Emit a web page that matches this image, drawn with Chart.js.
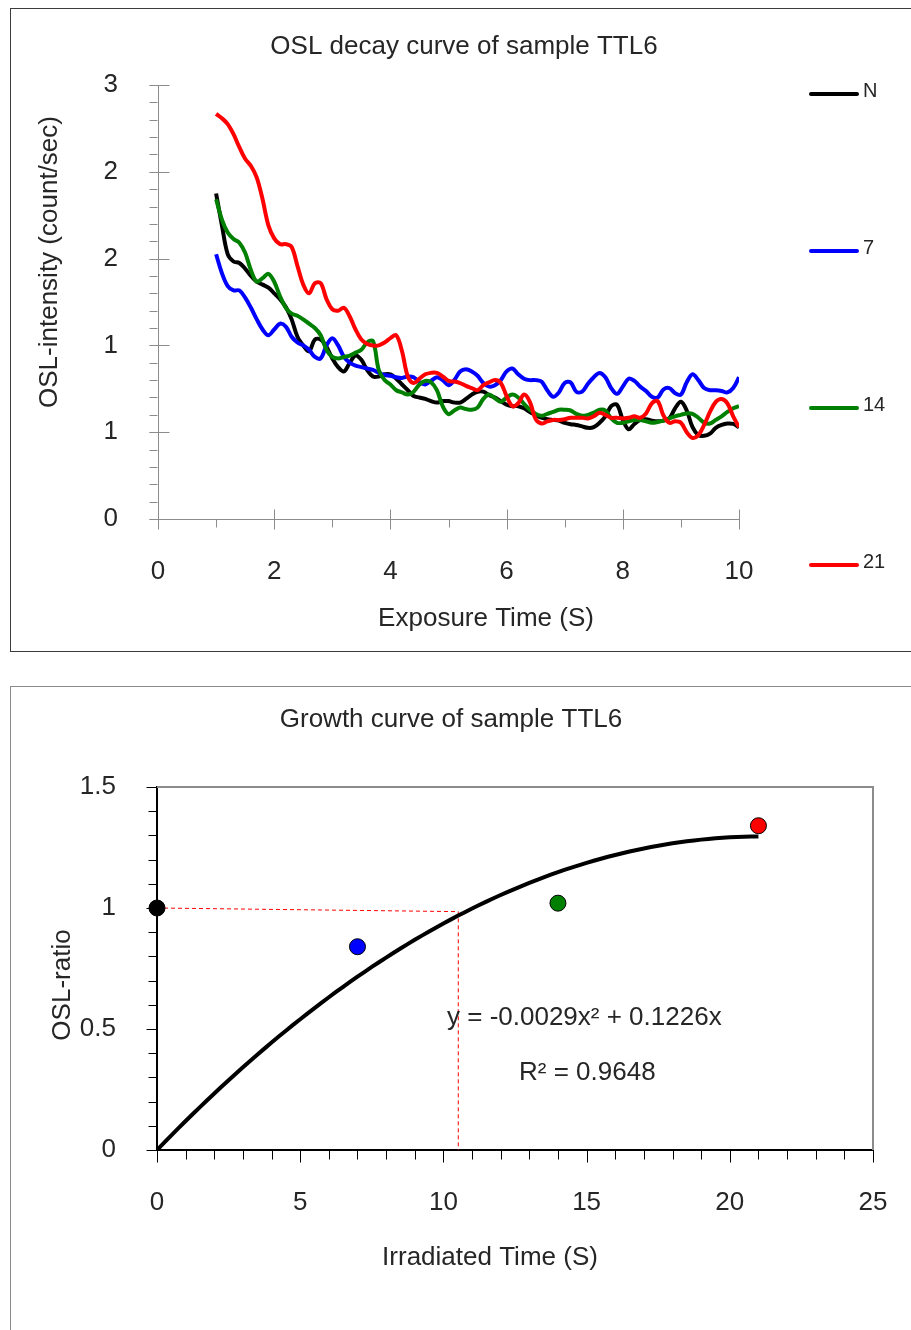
<!DOCTYPE html>
<html>
<head>
<meta charset="utf-8">
<title>TTL6</title>
<script src="https://cdn.jsdelivr.net/npm/chart.js@4.4.0/dist/chart.umd.min.js"></script>
<style>
  html, body { margin: 0; padding: 0; background: #fff; overflow: hidden; }
  body { width: 911px; height: 1330px; position: relative; }
  .frame { position: absolute; box-sizing: border-box; }
  #decayFrame { left: 10px; top: 8px; width: 940px; height: 644px; border: 1px solid #3c3c3c; }
  #growthFrame { left: 10px; top: 686px; width: 940px; height: 700px; border: 1px solid #8a8a8a; }
  canvas { position: absolute; left: 0; }
  #decayChart { top: 0; }
  #growthChart { top: 660px; }
</style>
</head>
<body>
<div class="frame" id="decayFrame"></div>
<div class="frame" id="growthFrame"></div>
<canvas id="decayChart" width="911" height="660"></canvas>
<canvas id="growthChart" width="911" height="670"></canvas>
<script>
// decay curves: exposure time (s) and OSL counts for each irradiation step
var exposureTime = [
    1.0, 1.1, 1.2, 1.3, 1.4, 1.5, 1.6, 1.7, 1.8, 1.9,
    2.0, 2.1, 2.2, 2.3, 2.4, 2.5, 2.6, 2.7, 2.8, 2.9,
    3.0, 3.1, 3.2, 3.3, 3.4, 3.5, 3.6, 3.7, 3.8, 3.9,
    4.0, 4.1, 4.2, 4.3, 4.4, 4.5, 4.6, 4.7, 4.8, 4.9,
    5.0, 5.1, 5.2, 5.3, 5.4, 5.5, 5.6, 5.7, 5.8, 5.9,
    6.0, 6.1, 6.2, 6.3, 6.4, 6.5, 6.6, 6.7, 6.8, 6.9,
    7.0, 7.1, 7.2, 7.3, 7.4, 7.5, 7.6, 7.7, 7.8, 7.9,
    8.0, 8.1, 8.2, 8.3, 8.4, 8.5, 8.6, 8.7, 8.8, 8.9,
    9.0, 9.1, 9.2, 9.3, 9.4, 9.5, 9.6, 9.7, 9.8, 9.9,
    10.0
];
var oslN = [
    2.25, 2.03, 1.83, 1.78, 1.77, 1.73, 1.68, 1.64, 1.62, 1.60,
    1.56, 1.52, 1.465, 1.38, 1.26, 1.20, 1.16, 1.24, 1.24, 1.19,
    1.11, 1.05, 1.02, 1.08, 1.13, 1.10, 1.03, 0.985, 0.985, 1.00,
    1.00, 0.97, 0.93, 0.89, 0.85, 0.84, 0.83, 0.815, 0.805, 0.815,
    0.815, 0.805, 0.805, 0.83, 0.86, 0.88, 0.88, 0.855, 0.84, 0.815,
    0.79, 0.78, 0.78, 0.765, 0.74, 0.72, 0.70, 0.69, 0.685, 0.68,
    0.665, 0.655, 0.65, 0.64, 0.63, 0.635, 0.665, 0.71, 0.78, 0.79,
    0.685, 0.62, 0.657, 0.685, 0.69, 0.68, 0.675, 0.68, 0.695, 0.765,
    0.81, 0.75, 0.635, 0.58, 0.575, 0.59, 0.63, 0.65, 0.66, 0.657,
    0.635
];
var osl7 = [
    1.83, 1.70, 1.61, 1.58, 1.58, 1.53, 1.46, 1.38, 1.31, 1.27,
    1.31, 1.35, 1.33, 1.26, 1.22, 1.20, 1.17, 1.12, 1.11, 1.20,
    1.25, 1.20, 1.12, 1.08, 1.06, 1.05, 1.04, 1.03, 1.01, 0.995,
    0.99, 0.98, 0.975, 0.985, 0.98, 0.945, 0.93, 0.955, 0.98, 0.96,
    0.925, 0.96, 1.02, 1.035, 1.02, 0.99, 0.94, 0.915, 0.925, 0.96,
    1.02, 1.04, 1.00, 0.97, 0.96, 0.96, 0.95, 0.89, 0.845, 0.875,
    0.94, 0.945, 0.88, 0.88, 0.935, 0.98, 1.01, 0.98, 0.905, 0.865,
    0.915, 0.97, 0.955, 0.915, 0.885, 0.845, 0.84, 0.895, 0.905, 0.87,
    0.86, 0.945, 1.00, 0.96, 0.905, 0.89, 0.89, 0.885, 0.875, 0.905,
    0.98
];
var osl14 = [
    2.21, 2.07, 1.98, 1.935, 1.91, 1.84, 1.72, 1.64, 1.665, 1.695,
    1.64, 1.54, 1.46, 1.42, 1.405, 1.38, 1.35, 1.32, 1.27, 1.17,
    1.12, 1.11, 1.12, 1.13, 1.15, 1.17, 1.22, 1.23, 1.03, 0.96,
    0.93, 0.89, 0.875, 0.86, 0.88, 0.93, 0.955, 0.945, 0.89, 0.78,
    0.725, 0.75, 0.77, 0.76, 0.755, 0.77, 0.83, 0.86, 0.835, 0.81,
    0.84, 0.86, 0.84, 0.795, 0.755, 0.727, 0.713, 0.727, 0.74, 0.755,
    0.755, 0.75, 0.727, 0.713, 0.72, 0.735, 0.755, 0.75, 0.695, 0.665,
    0.665, 0.675, 0.685, 0.685, 0.675, 0.665, 0.67, 0.68, 0.695, 0.71,
    0.72, 0.73, 0.727, 0.70, 0.665, 0.66, 0.685, 0.71, 0.74, 0.765,
    0.78
];
var osl21 = [
    2.80, 2.77, 2.73, 2.66, 2.57, 2.49, 2.44, 2.36, 2.21, 2.03,
    1.94, 1.90, 1.90, 1.88, 1.75, 1.62, 1.56, 1.63, 1.63, 1.52,
    1.45, 1.44, 1.46, 1.40, 1.31, 1.24, 1.21, 1.20, 1.20, 1.22,
    1.25, 1.27, 1.16, 0.985, 0.94, 0.97, 1.00, 1.01, 1.01, 0.985,
    0.955, 0.95, 0.94, 0.92, 0.905, 0.89, 0.925, 0.945, 0.96, 0.94,
    0.85, 0.78, 0.80, 0.86, 0.81, 0.69, 0.66, 0.675, 0.685, 0.685,
    0.69, 0.70, 0.70, 0.70, 0.695, 0.71, 0.735, 0.72, 0.70, 0.70,
    0.695, 0.70, 0.71, 0.70, 0.73, 0.80, 0.815, 0.715, 0.665, 0.675,
    0.665, 0.60, 0.56, 0.58, 0.65, 0.74, 0.81, 0.83, 0.80, 0.71,
    0.635
];
var decaySeries = [oslN, osl7, osl14, osl21];
var decayNames = ['N', '7', '14', '21'];
var decayColors = ['#000000', '#0000ff', '#008000', '#ff0000'];

// growth curve: irradiation time (s) against normalised OSL
var irradiatedTime = [0, 7, 14, 21];
var oslRatio = [1.0, 0.84, 1.02, 1.34];
var pointColors = ['#000000', '#0000ff', '#008000', '#ff0000'];
var fitCoeffs = [-0.0029, 0.1226];   // y = a*x^2 + b*x
var fitR2 = 0.9648;
var doseLineX = [0, 10.52, 10.52];
var doseLineY = [1.0, 0.985, 0];

var FONT = "'Liberation Sans', Arial, sans-serif";
var TEXT = '#262626';

// plain text at fixed spots (titles, equation)
function textLayer(items) {
    return {
        id: 'textLayer',
        afterDraw: function (chart) {
            var ctx = chart.ctx;
            items.forEach(function (it) {
                ctx.save();
                ctx.font = (it.size || 26) + 'px ' + FONT;
                ctx.fillStyle = TEXT;
                ctx.textAlign = it.align || 'center';
                ctx.textBaseline = 'middle';
                ctx.translate(it.x, it.y);
                if (it.rotate) ctx.rotate(it.rotate);
                ctx.fillText(it.text, 0, 0);
                ctx.restore();
            });
        }
    };
}

// major/minor tick marks in the old spreadsheet style
function tickMarks(cfg) {
    function line(ctx, x1, y1, x2, y2) {
        ctx.beginPath();
        ctx.moveTo(x1, y1);
        ctx.lineTo(x2, y2);
        ctx.stroke();
    }
    return {
        id: 'tickMarks',
        afterDraw: function (chart) {
            var ctx = chart.ctx;
            var xs = chart.scales.x, ys = chart.scales.y;
            var axisY = Math.round(ys.bottom) + 0.5;
            var axisX = Math.round(xs.left) - 0.5;
            ctx.save();
            ctx.lineWidth = 1;
            ctx.strokeStyle = cfg.color;
            var v, p;
            for (v = xs.min; v <= xs.max + 1e-9; v += cfg.xMinor) {
                p = Math.round(xs.getPixelForValue(v)) + 0.5;
                line(ctx, p, axisY, p, axisY + cfg.xMinorLen);
            }
            for (v = xs.min; v <= xs.max + 1e-9; v += cfg.xMajor) {
                p = Math.round(xs.getPixelForValue(v)) + 0.5;
                line(ctx, p, axisY - cfg.xMajorIn, p, axisY + cfg.xMajorOut);
            }
            for (v = ys.min; v <= ys.max + 1e-9; v += cfg.yMinor) {
                p = Math.round(ys.getPixelForValue(v)) + 0.5;
                line(ctx, axisX - cfg.yMinorLen, p, axisX, p);
            }
            for (v = ys.min; v <= ys.max + 1e-9; v += cfg.yMajor) {
                p = Math.round(ys.getPixelForValue(v)) + 0.5;
                line(ctx, axisX - cfg.yMajorOut, p, axisX + cfg.yMajorIn, p);
            }
            ctx.restore();
        }
    };
}

// legend spread down the right side
var spreadLegend = {
    id: 'spreadLegend',
    afterDraw: function (chart) {
        var ctx = chart.ctx;
        ctx.save();
        chart.data.datasets.forEach(function (ds, i) {
            var y = 94 + i * 157;
            ctx.strokeStyle = ds.borderColor;
            ctx.lineWidth = 4;
            ctx.lineCap = 'round';
            ctx.beginPath();
            ctx.moveTo(811, y);
            ctx.lineTo(857, y);
            ctx.stroke();
            ctx.font = '20px ' + FONT;
            ctx.fillStyle = TEXT;
            ctx.textAlign = 'left';
            ctx.textBaseline = 'middle';
            ctx.fillText(ds.label, 863, y - 3);
        });
        ctx.restore();
    }
};

// frame around the plot area
var plotFrame = {
    id: 'plotFrame',
    beforeDatasetsDraw: function (chart) {
        var a = chart.chartArea, ctx = chart.ctx;
        ctx.save();
        ctx.strokeStyle = '#8c8c8c';
        ctx.lineWidth = 2;
        ctx.beginPath();
        ctx.moveTo(a.left, a.top);
        ctx.lineTo(a.right, a.top);
        ctx.lineTo(a.right, a.bottom);
        ctx.stroke();
        ctx.restore();
    }
};

var decayDatasets = decaySeries.map(function (vals, i) {
    return {
        label: decayNames[i],
        data: exposureTime.map(function (t, j) { return { x: t, y: vals[j] }; }),
        borderColor: decayColors[i],
        borderWidth: 4,
        pointRadius: 0,
        tension: 0.35,
        fill: false,
        order: 4 - i
    };
});

new Chart(document.getElementById('decayChart'), {
    type: 'line',
    data: { datasets: decayDatasets },
    options: {
        responsive: false,
        animation: false,
        layout: { padding: { top: 85, right: 172, left: 0, bottom: 0 } },
        plugins: { legend: { display: false }, tooltip: { enabled: false } },
        scales: {
            x: {
                type: 'linear', min: 0, max: 10,
                afterFit: function (s) { s.height = 141; },
                grid: { display: false, drawTicks: false },
                border: { display: true, color: '#8c8c8c', width: 1 },
                ticks: { stepSize: 2, padding: 37, color: TEXT, font: { family: FONT, size: 26 } }
            },
            y: {
                min: 0, max: 3,
                afterFit: function (s) { s.width = 158; },
                grid: { display: false, drawTicks: false },
                border: { display: true, color: '#8c8c8c', width: 1 },
                ticks: {
                    stepSize: 0.6, padding: 40, color: TEXT, font: { family: FONT, size: 26 },
                    callback: function (v) { return Number(v).toFixed(0); }
                }
            }
        }
    },
    plugins: [
        tickMarks({ color: '#8c8c8c', xMinor: 1, xMajor: 2, xMinorLen: 8, xMajorIn: 10, xMajorOut: 10,
                    yMinor: 0.12, yMajor: 0.6, yMinorLen: 8, yMajorOut: 8, yMajorIn: 12 }),
        spreadLegend,
        textLayer([
            { text: 'OSL decay curve of sample TTL6', x: 464, y: 47 },
            { text: 'Exposure Time (S)', x: 486, y: 619 },
            { text: 'OSL-intensity (count/sec)', x: 50, y: 262, rotate: -Math.PI / 2 }
        ])
    ]
});

// fitted quadratic through the origin
var fitPoints = [];
for (var d = 0; d <= irradiatedTime[irradiatedTime.length - 1] + 1e-9; d += 0.25) {
    fitPoints.push({ x: d, y: fitCoeffs[0] * d * d + fitCoeffs[1] * d });
}
var equationText = 'y = ' + fitCoeffs[0].toFixed(4) + 'x\u00b2 + ' + fitCoeffs[1].toFixed(4) + 'x';
var r2Text = 'R\u00b2 = ' + fitR2.toFixed(4);

new Chart(document.getElementById('growthChart'), {
    type: 'scatter',
    data: {
        datasets: [
            {
                label: 'OSL ratio',
                data: irradiatedTime.map(function (t, i) { return { x: t, y: oslRatio[i] }; }),
                backgroundColor: pointColors,
                borderColor: '#000000',
                borderWidth: 1,
                pointRadius: 8,
                clip: false,
                order: 1
            },
            {
                label: 'Fit',
                data: fitPoints,
                showLine: true,
                borderColor: '#000000',
                borderWidth: 4,
                pointRadius: 0,
                tension: 0,
                order: 2
            },
            {
                label: 'Equivalent dose',
                data: doseLineX.map(function (x, i) { return { x: x, y: doseLineY[i] }; }),
                showLine: true,
                borderColor: '#ff0000',
                borderWidth: 1,
                borderDash: [4, 3],
                pointRadius: 0,
                order: 3
            }
        ]
    },
    options: {
        responsive: false,
        animation: false,
        layout: { padding: { top: 127, right: 38, left: 0, bottom: 0 } },
        plugins: { legend: { display: false }, tooltip: { enabled: false } },
        scales: {
            x: {
                type: 'linear', min: 0, max: 25,
                afterFit: function (s) { s.height = 180; s.paddingRight = 16; },
                grid: { display: false, drawTicks: false },
                border: { display: true, color: '#000000', width: 2 },
                ticks: { stepSize: 5, padding: 37, color: TEXT, font: { family: FONT, size: 26 } }
            },
            y: {
                min: 0, max: 1.5,
                afterFit: function (s) { s.width = 157; },
                grid: { display: false, drawTicks: false },
                border: { display: true, color: '#000000', width: 2 },
                ticks: {
                    stepSize: 0.5, padding: 41, color: TEXT, font: { family: FONT, size: 26 },
                    callback: function (v) { return String(Math.round(v * 10) / 10); }
                }
            }
        }
    },
    plugins: [
        plotFrame,
        tickMarks({ color: '#000000', xMinor: 1, xMajor: 5, xMinorLen: 9, xMajorIn: 0, xMajorOut: 12,
                    yMinor: 0.1, yMajor: 0.5, yMinorLen: 8, yMajorOut: 10, yMajorIn: 0 }),
        textLayer([
            { text: 'Growth curve of sample TTL6', x: 451, y: 60 },
            { text: 'Irradiated Time (S)', x: 490, y: 598 },
            { text: 'OSL-ratio', x: 63, y: 325, rotate: -Math.PI / 2 },
            { text: equationText, x: 447, y: 358, align: 'left' },
            { text: r2Text, x: 519, y: 413, align: 'left' }
        ])
    ]
});
</script>
</body>
</html>
